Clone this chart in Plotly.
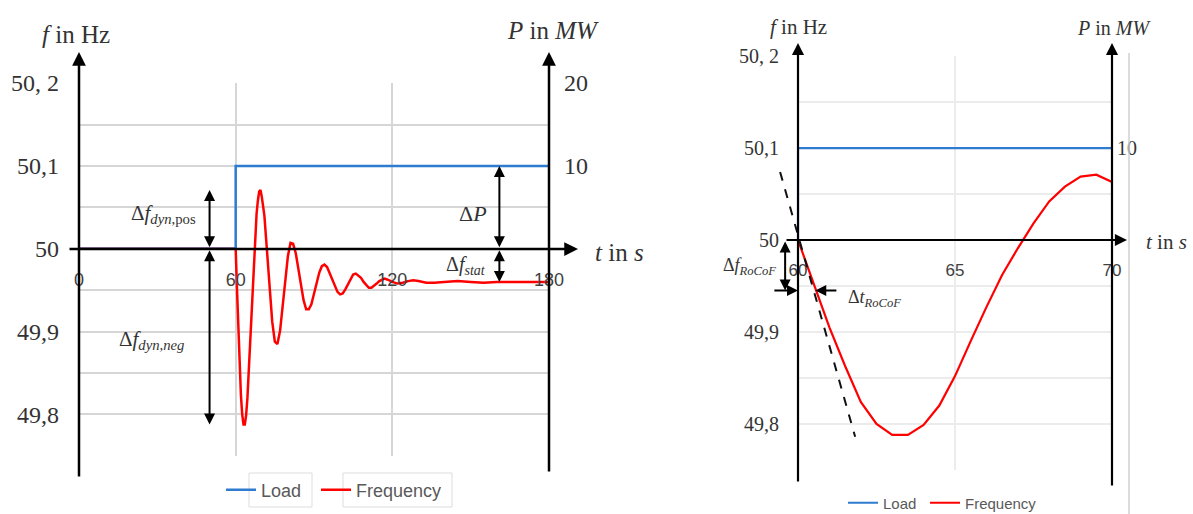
import plotly.graph_objects as go

W, H = 1193, 514

# Grid frequency after a 10 MW load step at t = 60 s
time_s = [0, 60, 60.5, 61, 61.5, 62, 62.5, 63, 63.5, 64, 64.5, 65, 65.5, 66, 66.5, 67,
          67.5, 68, 68.5, 69, 69.5, 70, 71, 72, 73, 74, 75, 76, 77, 78, 79, 80, 81,
          82, 83, 84, 85, 86, 87, 88, 89, 90, 91, 92, 93, 94, 95, 96, 97, 98, 99, 100,
          101, 102, 103, 104, 105, 106, 107, 108, 109, 110, 111, 112, 113, 114, 115,
          116, 117, 118, 120, 122, 124, 126, 128, 130, 133, 136, 140, 145, 150, 155,
          160, 170, 180]
freq_hz = [50.000, 50.000, 49.952, 49.905, 49.863, 49.824, 49.800, 49.788, 49.788,
           49.799, 49.820, 49.852, 49.890, 49.927, 49.962, 49.991, 50.018, 50.042,
           50.058, 50.069, 50.071, 50.063, 50.040, 50.000, 49.952, 49.912, 49.888,
           49.885, 49.901, 49.929, 49.963, 49.991, 50.007, 50.006, 49.995, 49.976,
           49.956, 49.938, 49.927, 49.927, 49.933, 49.945, 49.958, 49.971, 49.979,
           49.981, 49.978, 49.971, 49.963, 49.955, 49.948, 49.945, 49.946, 49.951,
           49.957, 49.964, 49.969, 49.970, 49.968, 49.965, 49.960, 49.956, 49.953,
           49.953, 49.955, 49.958, 49.961, 49.963, 49.964, 49.963, 49.960, 49.958,
           49.959, 49.961, 49.962, 49.961, 49.959, 49.959, 49.960, 49.961, 49.960,
           49.959, 49.960, 49.960, 49.960]

# Load step
load_t = [0, 60, 60, 180]
load_mw = [0, 0, 10, 10]

# Initial tangent used for the RoCoF estimate
tangent_t = [59.43, 61.82]
tangent_f = [50.074, 49.786]
rocof_dt = [60.0, 60.55]
rocof_df = [50.0, 49.945]

# Axis ticks
f_tick_vals = [49.75, 49.8, 49.85, 49.9, 49.95, 50.0, 50.05, 50.1, 50.15, 50.2]
f_tick_text = ["", "49,8", "", "49,9", "", "50", "", "50,1", "", "50, 2"]
t_ticks_full = [0, 60, 120, 180]
t_ticks_zoom = [60, 65, 70]
p_ticks_full = [10, 20]
p_ticks_zoom = [10]

F_MIN, F_MAX = 49.75, 50.2
P_PER_HZ = 100.0  # 10 MW <-> 0.1 Hz on the twin axes

SERIF = "Liberation Serif"
SANS = "Liberation Sans"
BLUE = "#2E7BCF"
RED = "#FF0000"


def px_x(p):
    return p / W


def px_y(p):
    return 1 - p / H


eps = 1e-4
f_range = [F_MIN - eps, F_MAX + eps]
p_range = [(F_MIN - 50) * P_PER_HZ - eps * 100, (F_MAX - 50) * P_PER_HZ + eps * 100]

# pixel frame of both panels
L_X0, L_X1, L_YT, L_YB = 79, 549, 83, 456
R_X0, R_X1, R_YT, R_YB = 798, 1112, 56, 470
R_AUX_X0 = 760
r_px_per_s = (R_X1 - R_X0) / 10.0
aux_t0 = 60 - (R_X0 - R_AUX_X0) / r_px_per_s

zoom_t = [t for t in time_s if 60 <= t <= 70]
zoom_f = [f for t, f in zip(time_s, freq_hz) if 60 <= t <= 70]

fig = go.Figure()

# left panel: full 180 s
fig.add_trace(go.Scatter(x=load_t, y=load_mw, xaxis="x", yaxis="y2", mode="lines",
                         name="Load", line=dict(color=BLUE, width=2.5), legend="legend"))
fig.add_trace(go.Scatter(x=time_s, y=freq_hz, xaxis="x", yaxis="y", mode="lines",
                         name="Frequency", line=dict(color=RED, width=2.5),
                         legend="legend2"))

# right panel: 60..70 s
fig.add_trace(go.Scatter(x=load_t, y=load_mw, xaxis="x3", yaxis="y4", mode="lines",
                         name="Load", line=dict(color=BLUE, width=2.2), legend="legend3"))
fig.add_trace(go.Scatter(x=zoom_t, y=zoom_f, xaxis="x3", yaxis="y3", mode="lines",
                         name="Frequency", line=dict(color=RED, width=2.2), legend="legend4"))
fig.add_trace(go.Scatter(x=tangent_t, y=tangent_f, xaxis="x5", yaxis="y5", mode="lines",
                         showlegend=False, line=dict(color="#111111", width=2, dash="dash")))

grid_l = "#d6d6d6"
grid_r = "#ececec"


def legend_at(x_px, y_px, size):
    return dict(orientation="h", x=px_x(x_px), y=px_y(y_px), xanchor="left",
                yanchor="middle", font=dict(family=SANS, size=size, color="#595959"),
                bgcolor="rgba(0,0,0,0)", itemwidth=30)


fig.update_layout(
    width=W, height=H,
    margin=dict(l=0, r=0, t=0, b=0, autoexpand=False),
    paper_bgcolor="white", plot_bgcolor="rgba(0,0,0,0)",
    xaxis=dict(domain=[px_x(L_X0), px_x(L_X1)], range=[0, 180], anchor="free",
               position=px_y(249), tickvals=t_ticks_full, showgrid=True, gridcolor=grid_l,
               gridwidth=1.5, zeroline=False, showline=False, ticks="", automargin=False,
               ticklabelstandoff=18, tickfont=dict(family=SANS, size=18, color="#404040")),
    yaxis=dict(domain=[px_y(L_YB), px_y(L_YT)], range=f_range, anchor="x",
               tickvals=f_tick_vals, ticktext=f_tick_text, showgrid=True, gridcolor=grid_l,
               gridwidth=1.5, zeroline=False, showline=False, ticks="", automargin=False,
               ticklabelstandoff=19, tickfont=dict(family=SERIF, size=24, color="#333333")),
    yaxis2=dict(overlaying="y", side="right", anchor="x", range=p_range,
                tickvals=p_ticks_full, showgrid=False, zeroline=False, showline=False,
                ticks="", ticklabelstandoff=14, automargin=False,
                tickfont=dict(family=SERIF, size=24, color="#333333")),
    xaxis3=dict(domain=[px_x(R_X0), px_x(R_X1)], range=[60, 70], anchor="free",
                position=px_y(240), tickvals=t_ticks_zoom, showgrid=True, gridcolor=grid_r,
                gridwidth=1.5, zeroline=False, showline=False, ticks="", automargin=False,
                ticklabelstandoff=18, tickfont=dict(family=SANS, size=17, color="#404040")),
    yaxis3=dict(domain=[px_y(R_YB), px_y(R_YT)], range=f_range, anchor="x3",
                tickvals=f_tick_vals, ticktext=f_tick_text, showgrid=True, gridcolor=grid_r,
                gridwidth=1.5, zeroline=False, showline=False, ticks="", automargin=False,
                ticklabelstandoff=18, tickfont=dict(family=SERIF, size=20, color="#333333")),
    yaxis4=dict(overlaying="y3", side="right", anchor="x3", range=p_range,
                tickvals=p_ticks_zoom, showgrid=False, zeroline=False, showline=False,
                ticks="", ticklabelstandoff=4, automargin=False,
                tickfont=dict(family=SERIF, size=20, color="#333333")),
    xaxis5=dict(domain=[px_x(R_AUX_X0), px_x(R_X1)], range=[aux_t0, 70], anchor="y5",
                visible=False, automargin=False),
    yaxis5=dict(domain=[px_y(R_YB), px_y(R_YT)], range=f_range, anchor="x5", visible=False,
                automargin=False),
    legend=legend_at(221, 490, 18),
    legend2=legend_at(316, 490, 18),
    legend3=legend_at(843, 503, 15),
    legend4=legend_at(925, 503, 15),
    showlegend=True,
)

annotations = []


def axis_arrow(hx, hy, tx, ty, width=2.5):
    annotations.append(dict(xref="paper", yref="paper", x=px_x(hx), y=px_y(hy),
                            ax=tx - hx, ay=ty - hy, axref="pixel", ayref="pixel", text="",
                            showarrow=True, arrowhead=2, arrowsize=1.1, arrowwidth=width,
                            arrowcolor="#000000"))


# left panel axes
axis_arrow(L_X0, 52, L_X0, 478)
axis_arrow(578, 249, 68, 249)
axis_arrow(L_X1, 52, L_X1, 473)
# right panel axes
axis_arrow(R_X0, 43, R_X0, 483, 2.2)
axis_arrow(1127, 240, 785, 240, 2.2)
axis_arrow(R_X1, 43, R_X1, 487, 2.2)


def data_arrow(xr, yr, x0, y0, x1, y1, both=True, width=2):
    annotations.append(dict(xref=xr, yref=yr, axref=xr, ayref=yr, x=x1, y=y1, ax=x0, ay=y0,
                            text="", showarrow=True, arrowhead=2, arrowsize=1.1,
                            arrowwidth=width, arrowcolor="#000000",
                            arrowside="end+start" if both else "end"))


f_peak = max(freq_hz)
f_low = min(freq_hz)
f_stat = freq_hz[-1]
data_arrow("x", "y", 50, 50.0, 50, f_peak)
data_arrow("x", "y", 50, 50.0, 50, f_low)
data_arrow("x", "y2", 161, 0, 161, load_mw[-1])
data_arrow("x", "y", 161, 50.0, 161, f_stat)
# RoCoF window
data_arrow("x5", "y5", 59.59, rocof_df[0], 59.59, rocof_df[1])
data_arrow("x5", "y5", 59.2, rocof_df[1], rocof_dt[0], rocof_df[1], both=False)
data_arrow("x5", "y5", 61.27, rocof_df[1], rocof_dt[1], rocof_df[1], both=False)


def label(text, x, y, size, xanchor="center", yanchor="middle", family=SERIF, color="#333333"):
    annotations.append(dict(xref="paper", yref="paper", x=px_x(x), y=px_y(y), text=text,
                            showarrow=False, xanchor=xanchor, yanchor=yanchor,
                            font=dict(family=family, size=size, color=color)))


# axis titles
label("<i>f</i> in Hz", 76, 35, 25)
label("<i>P</i> in <i>MW</i>", 553, 30, 25)
label("<i>t</i> in <i>s</i>", 619, 252, 25)
label("<i>f</i> in Hz", 798, 27, 21)
label("<i>P</i> in <i>MW</i>", 1114, 28, 20)
label("<i>t</i> in <i>s</i>", 1166, 242, 21)

# quantity labels
label("Δ<i>f</i><sub><i>dyn</i>,pos</sub>", 198, 214, 21, xanchor="right")
label("Δ<i>f</i><sub><i>dyn,neg</i></sub>", 186, 340, 21, xanchor="right")
label("Δ<i>P</i>", 489, 213, 22, xanchor="right")
label("Δ<i>f</i><sub><i>stat</i></sub>", 488, 265, 20, xanchor="right")
label("Δ<i>f</i><sub><i>RoCoF</i></sub>", 778, 266, 18, xanchor="right")
label("Δ<i>t</i><sub><i>RoCoF</i></sub>", 846, 298, 18, xanchor="left")

fig.update_layout(annotations=annotations)

# boxes around the legend texts and the right frame line
fig.update_layout(shapes=[
    dict(type="rect", xref="paper", yref="paper", x0=px_x(249), x1=px_x(312),
         y0=px_y(507), y1=px_y(473), line=dict(color="#dddddd", width=1)),
    dict(type="rect", xref="paper", yref="paper", x0=px_x(343), x1=px_x(452),
         y0=px_y(507), y1=px_y(473), line=dict(color="#dddddd", width=1)),
    dict(type="line", xref="paper", yref="paper", x0=px_x(1129), x1=px_x(1129),
         y0=px_y(53), y1=px_y(514), line=dict(color="#d0d0d0", width=1.5)),
])

fig.write_html("out.html")
